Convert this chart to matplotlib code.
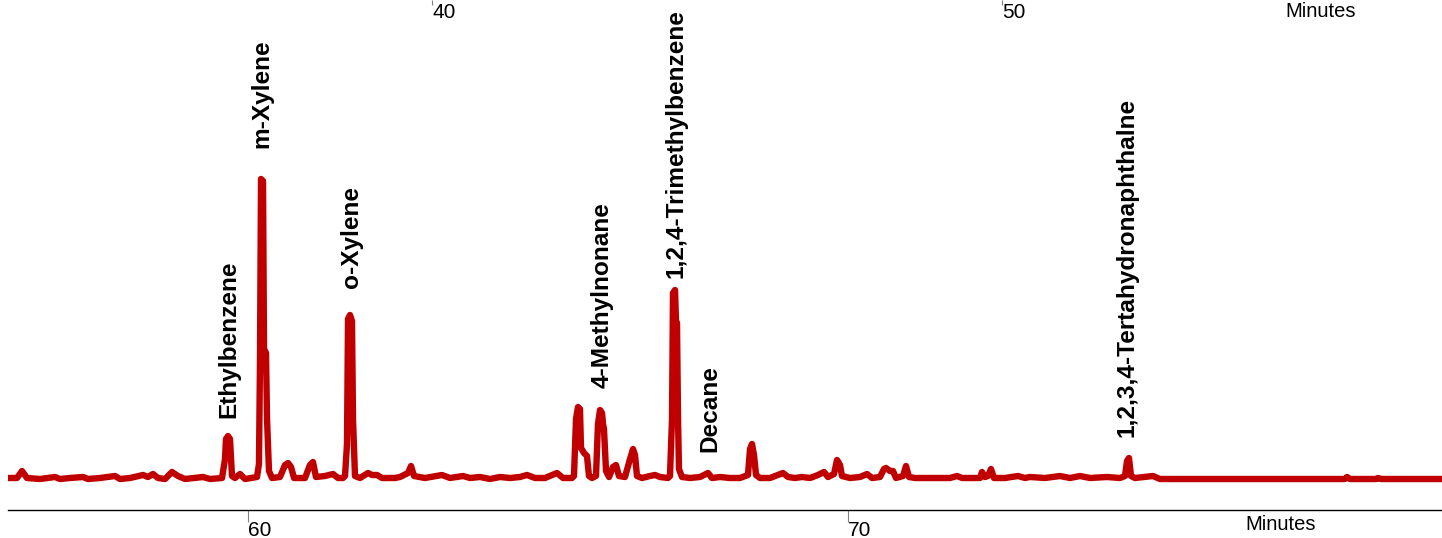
import matplotlib
matplotlib.use('Agg')
import matplotlib.pyplot as plt

plt.rcParams['font.family'] = ['Liberation Sans', 'DejaVu Sans']

# chromatogram trace (time in minutes, detector response)
times = [
    56.000, 56.150, 56.233, 56.317, 56.533, 56.783, 56.867, 57.033, 57.250, 57.333,
    57.533, 57.783, 57.867, 58.033, 58.250, 58.333, 58.417, 58.500, 58.617, 58.733,
    58.833, 58.950, 59.250, 59.367, 59.567, 59.617, 59.633, 59.667, 59.700, 59.733,
    59.783, 59.867, 59.950, 60.150, 60.183, 60.200, 60.217, 60.250, 60.267, 60.300,
    60.317, 60.350, 60.400, 60.533, 60.617, 60.667, 60.717, 60.767, 60.950, 61.033,
    61.083, 61.133, 61.283, 61.417, 61.500, 61.583, 61.617, 61.650, 61.667, 61.700,
    61.733, 61.750, 61.783, 61.867, 62.000, 62.067, 62.150, 62.233, 62.450, 62.533,
    62.667, 62.717, 62.767, 62.950, 63.233, 63.367, 63.583, 63.700, 63.867, 64.033,
    64.200, 64.367, 64.533, 64.650, 64.783, 64.950, 65.150, 65.250, 65.400, 65.433,
    65.467, 65.500, 65.533, 65.550, 65.600, 65.650, 65.683, 65.733, 65.800, 65.833,
    65.867, 65.900, 65.917, 65.933, 65.967, 66.017, 66.083, 66.133, 66.183, 66.283,
    66.367, 66.417, 66.450, 66.483, 66.567, 66.700, 66.783, 66.867, 67.000, 67.033,
    67.067, 67.083, 67.117, 67.133, 67.150, 67.167, 67.183, 67.233, 67.367, 67.533,
    67.667, 67.733, 67.867, 68.033, 68.200, 68.333, 68.367, 68.400, 68.433, 68.467,
    68.533, 68.700, 68.917, 69.000, 69.117, 69.233, 69.367, 69.500, 69.600, 69.667,
    69.767, 69.817, 69.867, 69.900, 70.033, 70.200, 70.317, 70.400, 70.533, 70.600,
    70.633, 70.700, 70.750, 70.800, 70.917, 70.967, 71.017, 71.117, 71.367, 71.700,
    71.817, 71.900, 72.117, 72.200, 72.233, 72.283, 72.333, 72.383, 72.433, 72.617,
    72.833, 72.950, 73.033, 73.283, 73.533, 73.700, 73.867, 74.033, 74.317, 74.533,
    74.617, 74.650, 74.683, 74.717, 74.783, 75.083, 75.200, 76.700, 78.283, 78.317,
    78.367, 78.800, 78.833, 78.883, 79.900,
]
signal = [
    1, 1, 8, 1, 0, 2, 0, 1, 2, 0,
    1, 3, 0, 1, 4, 2, 5, 1, 0, 7,
    3, 0, 2, 0, 1, 20, 40, 43, 40, 3,
    1, 5, 0, 2, 15, 120, 300, 298, 130, 126,
    60, 8, 1, 2, 14, 16, 12, 1, 1, 14,
    17, 2, 3, 5, 1, 1, 3, 35, 160, 164,
    158, 60, 3, 1, 6, 4, 4, 1, 1, 2,
    6, 13, 3, 1, 4, 1, 3, 1, 2, 0,
    2, 1, 2, 4, 1, 1, 6, 1, 1, 3,
    60, 72, 70, 31, 26, 23, 3, 1, 3, 55,
    69, 66, 55, 50, 8, 2, 12, 14, 3, 2,
    20, 30, 24, 3, 1, 3, 4, 2, 1, 3,
    60, 186, 189, 158, 156, 60, 10, 2, 1, 2,
    6, 1, 2, 1, 1, 4, 30, 35, 24, 4,
    1, 1, 6, 2, 1, 2, 1, 4, 7, 2,
    5, 19, 14, 3, 1, 2, 5, 1, 2, 10,
    11, 8, 8, 1, 3, 13, 2, 1, 1, 1,
    3, 1, 1, 1, 7, 2, 3, 10, 1, 1,
    3, 1, 2, 1, 3, 1, 3, 1, 2, 1,
    3, 18, 21, 3, 1, 3, 0, 0, 0, 2,
    0, 0, 1, 0, 0,
]

peak_names = ['Ethylbenzene', 'm-Xylene', 'o-Xylene', '4-Methylnonane',
              '1,2,4-Trimethylbenzene', 'Decane', '1,2,3,4-Tertahydronaphthalne']
label_x = [59.683, 60.233, 61.733, 65.900, 67.133, 67.700, 74.650]
label_y = [61, 331, 191, 91, 201, 27, 42]

bottom_ticks = [60, 70]
top_ticks = [40, 50]

fig = plt.figure(figsize=(14.42, 5.38), dpi=100)
ax = fig.add_axes([8 / 1442, 28 / 538, 1434 / 1442, 510 / 538])
ax.plot(times, signal, color='#C00000', lw=4.6,
        solid_joinstyle='round', solid_capstyle='round')
ax.set_xlim(56.0, 79.9)
ax.set_ylim(-31, 479)
for s in ['top', 'left', 'right']:
    ax.spines[s].set_visible(False)
ax.spines['bottom'].set_linewidth(1.0)
ax.set_yticks([])
ax.set_xticks(bottom_ticks)
ax.tick_params(axis='x', direction='out', length=8.6, width=0.8,
               color='#808080', labelsize=15, pad=-0.5)
plt.setp(ax.get_xticklabels(), ha='left')

# second (upper) time axis
ax2 = ax.twiny()
ax2.set_xlim(32.56, 57.72)
ax2.set_xticks(top_ticks)
ax2.tick_params(axis='x', direction='in', length=3.6, width=0.8,
                color='#808080', labelsize=15, pad=-15.5)
for s in ax2.spines.values():
    s.set_visible(False)
plt.setp(ax2.get_xticklabels(), ha='left')

for name, lx, ly in zip(peak_names, label_x, label_y):
    ax.text(lx, ly, name, rotation=90, ha='center', va='bottom',
            fontsize=17.6, fontweight='bold')

fig.text(1285 / 1442, 1 - 2 / 538, 'Minutes', ha='left', va='top', fontsize=14.5)
fig.text(1245 / 1442, 1 - 515 / 538, 'Minutes', ha='left', va='top', fontsize=14.5)

fig.savefig('out.png', dpi=100)
